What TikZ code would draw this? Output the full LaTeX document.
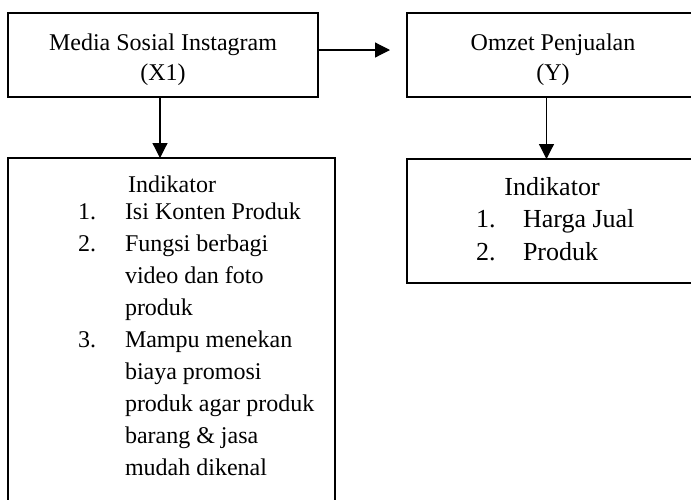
\documentclass[tikz,border=0pt]{standalone}
\usepackage{fontspec}
\setmainfont{Liberation Serif}
\usetikzlibrary{arrows.meta}
\begin{document}
\begin{tikzpicture}[x=1pt,y=-1pt,
  boxstyle/.style={draw=black,line width=1.3pt,inner sep=0pt,outer sep=0pt,fill=white},
  txt/.style={inner sep=0pt,outer sep=0pt,font=\fontsize{24}{30}\selectfont},
  txtb/.style={inner sep=0pt,outer sep=0pt,font=\fontsize{26}{32}\selectfont},
  arr/.style={line width=1.2pt,-{Triangle[width=15pt,length=15pt]}}]
\useasboundingbox (0,0) rectangle (691,499);
\clip (0,0) rectangle (691,499);
\fill[white] (0,0) rectangle (691,499);
% boxes
\node[boxstyle,minimum width=310,minimum height=84] (b1) at (163,55) {};
\node[boxstyle,minimum width=293,minimum height=84] (b2) at (553.5,55) {};
\node[boxstyle,minimum width=327,minimum height=362] (b3) at (171.5,339) {};
\node[boxstyle,minimum width=293,minimum height=124] (b4) at (553.5,221) {};
% box 1 text
\node[txt,anchor=base] (t1a) at (163,50) {Media Sosial Instagram};
\node[txt,anchor=base] (t1b) at (163,80) {(X1)};
% box 2 text
\node[txt,anchor=base] (t2a) at (553,50) {Omzet Penjualan};
\node[txt,anchor=base] (t2b) at (553,80) {(Y)};
% box 3 text
\node[txt,anchor=base] (t3h) at (172,192) {Indikator};
\node[txt,anchor=base west] (n31) at (78,219) {1.};
\node[txt,anchor=base west] (l31) at (125,219) {Isi Konten Produk};
\node[txt,anchor=base west] (n32) at (78,251) {2.};
\node[txt,anchor=base west] (l32a) at (125,251) {Fungsi berbagi};
\node[txt,anchor=base west] (l32b) at (125,283) {video dan foto};
\node[txt,anchor=base west] (l32c) at (125,315) {produk};
\node[txt,anchor=base west] (n33) at (78,347) {3.};
\node[txt,anchor=base west] (l33a) at (125,347) {Mampu menekan};
\node[txt,anchor=base west] (l33b) at (125,379) {biaya promosi};
\node[txt,anchor=base west] (l33c) at (125,411) {produk agar produk};
\node[txt,anchor=base west] (l33d) at (125,443) {barang \& jasa};
\node[txt,anchor=base west] (l33e) at (125,475) {mudah dikenal};
% box 4 text
\node[txtb,anchor=base] (t4h) at (552,195) {Indikator};
\node[txtb,anchor=base west] (n41) at (476,227) {1.};
\node[txtb,anchor=base west] (l41) at (523,227) {Harga Jual};
\node[txtb,anchor=base west] (n42) at (476,260) {2.};
\node[txtb,anchor=base west] (l42) at (523,260) {Produk};
% connectors
\coordinate (hend) at (390,50);
\draw[arr] (b1.east |- hend) -- (hend);
\draw[arr] ([xshift=-3]b1.south) -- ([xshift=-3]b1.south |- b3.north);
\draw[arr] ([xshift=-7]b2.south) -- ([xshift=-7]b2.south |- b4.north);
\end{tikzpicture}
\end{document}
